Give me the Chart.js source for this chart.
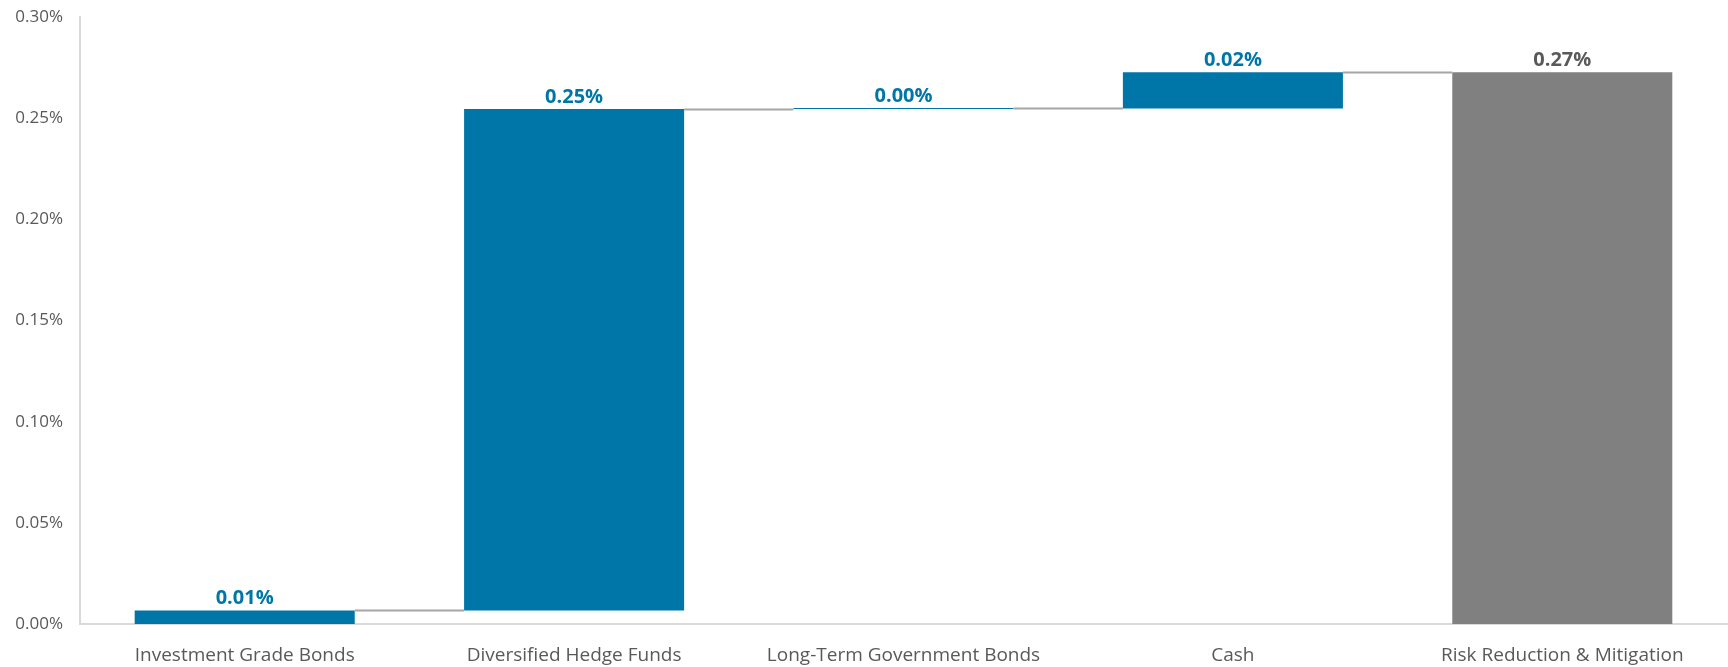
<!DOCTYPE html>
<html>
<head>
<meta charset="utf-8">
<script src="https://cdn.jsdelivr.net/npm/chart.js@4/dist/chart.umd.min.js"></script>
<style>
  html, body { margin: 0; padding: 0; background: #fff; }
  #wrap { width: 1728px; height: 667px; }
</style>
</head>
<body>
<div id="wrap"><canvas id="waterfall" width="1728" height="667"></canvas></div>
<script>
// contribution by asset class, in percent
const categories = [
  'Investment Grade Bonds',
  'Diversified Hedge Funds',
  'Long-Term Government Bonds',
  'Cash',
  'Risk Reduction & Mitigation'
];
const changes = [0.0067, 0.2478, 0.0003, 0.0179];
const yTicks = [0, 0.05, 0.10, 0.15, 0.20, 0.25, 0.30];

const blue = '#0076a8';
const grey = '#808080';

// floating ranges for the waterfall, total bar from zero
let ranges = [];
let running = 0;
changes.forEach(function (c) {
  ranges.push([running, running + c]);
  running += c;
});
ranges.push([0, running]);
const labelValues = changes.concat([running]);

const barColors = categories.map((c, i) => i === categories.length - 1 ? grey : blue);
const labelColors = categories.map((c, i) => i === categories.length - 1 ? '#595959' : blue);

// value labels above each bar + grey connectors between bars
const waterfallExtras = {
  id: 'waterfallExtras',
  afterDatasetsDraw(chart) {
    const ctx = chart.ctx;
    const meta = chart.getDatasetMeta(0);
    const y = chart.scales.y;

    ctx.save();
    ctx.strokeStyle = '#a6a6a6';
    ctx.lineWidth = 2;
    for (let i = 0; i < meta.data.length - 1; i++) {
      const a = meta.data[i], b = meta.data[i + 1];
      const top = Math.round(y.getPixelForValue(ranges[i][1])) + 0.5;
      ctx.beginPath();
      ctx.moveTo(a.x + a.width / 2, top);
      ctx.lineTo(b.x - b.width / 2, top);
      ctx.stroke();
    }

    ctx.font = 'bold 20px "Open Sans", sans-serif';
    ctx.textAlign = 'center';
    ctx.textBaseline = 'bottom';
    meta.data.forEach(function (bar, i) {
      const top = y.getPixelForValue(Math.max(ranges[i][0], ranges[i][1]));
      ctx.fillStyle = labelColors[i];
      ctx.fillText(labelValues[i].toFixed(2) + '%', bar.x, top - 2);
    });
    ctx.restore();
  }
};

new Chart(document.getElementById('waterfall'), {
  type: 'bar',
  data: {
    labels: categories,
    datasets: [{
      data: ranges,
      backgroundColor: barColors,
      borderWidth: 0,
      categoryPercentage: 1,
      barPercentage: 0.668,
      minBarLength: 1
    }]
  },
  options: {
    responsive: false,
    animation: false,
    layout: { padding: { top: 17, right: 1, left: 0, bottom: 0 } },
    plugins: {
      legend: { display: false },
      tooltip: { enabled: false }
    },
    scales: {
      x: {
        grid: { display: false, drawTicks: false },
        border: { color: '#d9d9d9', width: 2 },
        ticks: {
          color: '#595959',
          font: { family: '"Open Sans", sans-serif', size: 19 },
          padding: 20,
          maxRotation: 0,
          autoSkip: false
        },
        afterFit(scale) { scale.height = 43; }
      },
      y: {
        min: 0,
        max: 0.30,
        grid: { display: false, drawTicks: false },
        border: { color: '#d9d9d9', width: 2 },
        afterBuildTicks(scale) {
          scale.ticks = yTicks.map(v => ({ value: v }));
        },
        ticks: {
          color: '#595959',
          font: { family: '"Open Sans", sans-serif', size: 17 },
          padding: 17,
          callback: v => v.toFixed(2) + '%'
        },
        afterFit(scale) {
          scale.width = 80;
          scale.paddingTop = 0;
        }
      }
    }
  },
  plugins: [waterfallExtras]
});
</script>
</body>
</html>
